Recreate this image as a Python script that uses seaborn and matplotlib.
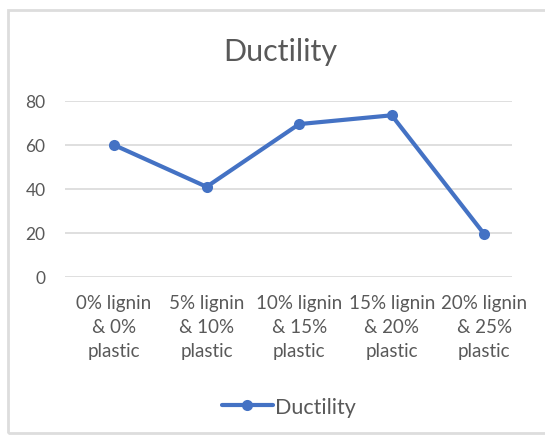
import matplotlib
matplotlib.use("Agg")
import matplotlib.pyplot as plt
from matplotlib.patches import Rectangle
import seaborn as sns
import pandas as pd

categories = ["0% lignin\n& 0%\nplastic", "5% lignin\n& 10%\nplastic",
              "10% lignin\n& 15%\nplastic", "15% lignin\n& 20%\nplastic",
              "20% lignin\n& 25%\nplastic"]
ductility = [60, 41, 69.5, 73.5, 19.5]
y_ticks = [0, 20, 40, 60, 80]

sns.set_theme(style="white")
plt.rcParams["font.family"] = ["Lato", "DejaVu Sans"]

text_color = "#595959"
line_color = "#4472C4"

df = pd.DataFrame({"cat": categories, "Ductility": ductility})

fig = plt.figure(figsize=(5.45, 4.39), dpi=100)
fig.patches.append(Rectangle((8 / 545, 1 - 434 / 439), 1.0, (434 - 11) / 439,
                             transform=fig.transFigure, fill=False,
                             edgecolor="#dddddd", linewidth=2))

ax = fig.add_axes([65 / 545, 1 - 278 / 439, (512 - 65) / 545, (278 - 102) / 439])
sns.lineplot(data=df, x="cat", y="Ductility", ax=ax, color=line_color,
             linewidth=3, marker="o", markersize=8, markeredgewidth=0,
             label="Ductility", sort=False)

ax.set_xlim(-0.53, 4.30)
ax.set_ylim(0, 80)
ax.set_yticks(y_ticks)
ax.yaxis.grid(True, color="#d9d9d9", linewidth=1.2)
ax.set_axisbelow(True)
for s in ax.spines.values():
    s.set_visible(False)
ax.set_xlabel("")
ax.set_ylabel("")
ax.tick_params(axis="y", length=0, colors=text_color, labelsize=12.5, pad=14)
ax.tick_params(axis="x", length=0, colors=text_color, labelsize=13.5, pad=12)
for lbl in ax.get_xticklabels():
    lbl.set_linespacing(1.5)

fig.text(0.515, 1 - 52 / 439, "Ductility", ha="center", va="center",
         fontsize=22, color=text_color)

ax.legend(loc="center", bbox_to_anchor=(0.53, 1 - 408 / 439),
          bbox_transform=fig.transFigure, frameon=False, fontsize=15.5,
          labelcolor=text_color, handlelength=2.4, handletextpad=0.1)

fig.savefig("out.png", dpi=100, facecolor="white")
